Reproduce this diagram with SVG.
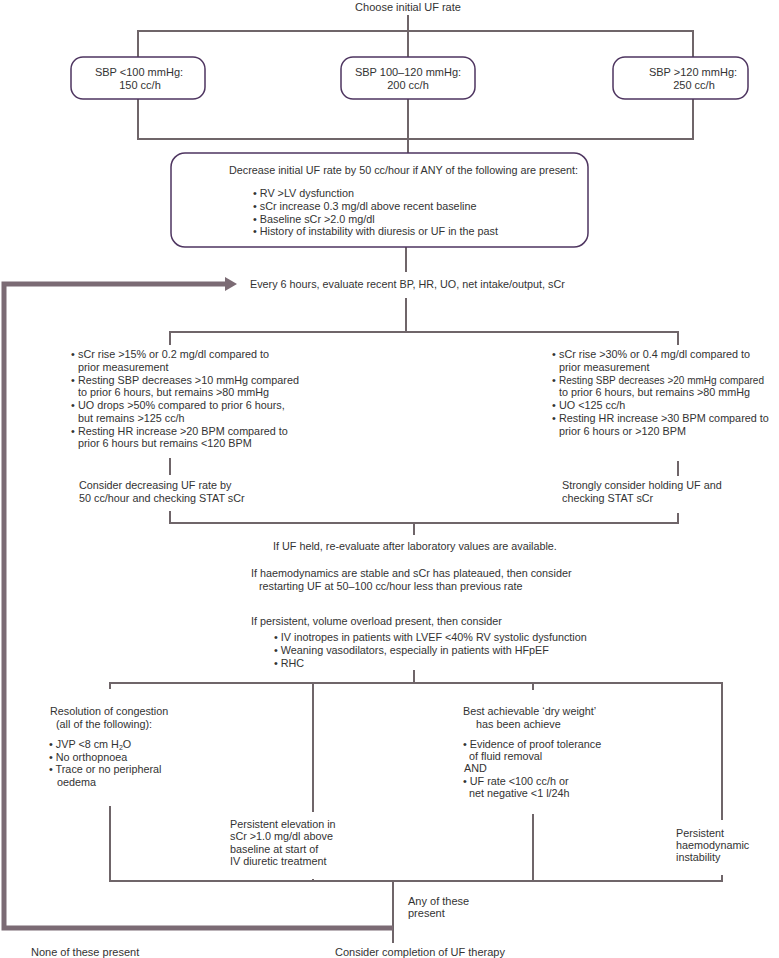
<svg xmlns="http://www.w3.org/2000/svg" width="779" height="958" viewBox="0 0 779 958">
<style>
.t{font-family:"Liberation Sans","DejaVu Sans",sans-serif;font-size:10.8px;fill:#333}
.n{font-family:"Liberation Sans","DejaVu Sans",sans-serif;font-size:11px;fill:#333}
.c{text-anchor:middle}
.ln{stroke:#6f6569;stroke-width:2;fill:none}
.bx{stroke:#4e3560;stroke-width:1.5;fill:#fff}
.thick{stroke:#7b6b74;stroke-width:5;fill:none}
</style>
<defs>
<marker id="ah" markerUnits="userSpaceOnUse" markerWidth="14" markerHeight="14" refX="1" refY="7" orient="auto">
<path d="M0,0 L12,7 L0,14 Z" fill="#7b6b74"/>
</marker>
</defs>
<rect width="779" height="958" fill="#fff"/>
<g id="connectors">
<path class="ln" d="M408,15 V57 M138,57 V31 H693 V57 M138,99 V139 H693 V99 M408,99 V153"/>
<path class="ln" d="M406,247 V272 M406,298 V332 M170,345 V332 H678 V345 M170,458 V475 M678,461 V476 M170,511 V523 H678 V513 M414,523 V535"/>
<path class="ln" d="M414,670 V683 M110,689 V683 H722 V820 M313,683 V812 M533,683 V690 M110,806 V881 H722 V875 M313,879 V881 M533,814 V881 M393,881 V943"/>
<path class="thick" d="M393,928 H4 V284 H226" marker-end="url(#ah)"/>
</g>
<g id="start"><text class="n c" x="408" y="11">Choose initial UF rate</text></g>
<g id="sbp-low">
<rect class="bx" x="71" y="57" width="134" height="42" rx="12"/>
<text class="n c" x="139" y="76">SBP &lt;100 mmHg:</text>
<text class="n c" x="140" y="89">150 cc/h</text>
</g>
<g id="sbp-mid">
<rect class="bx" x="341" y="57" width="134" height="42" rx="12"/>
<text class="n c" x="408" y="76">SBP 100–120 mmHg:</text>
<text class="n c" x="408" y="89">200 cc/h</text>
</g>
<g id="sbp-high">
<rect class="bx" x="613" y="57" width="135" height="42" rx="12"/>
<text class="n c" x="693" y="76">SBP &gt;120 mmHg:</text>
<text class="n c" x="694" y="89">250 cc/h</text>
</g>
<g id="decrease">
<rect class="bx" x="171" y="153" width="417" height="94" rx="14"/>
<text class="t" x="229" y="174">Decrease initial UF rate by 50 cc/hour if ANY of the following are present:</text>
<text class="t" x="253" y="197">• RV &gt;LV dysfunction</text>
<text class="t" x="253" y="210">• sCr increase 0.3 mg/dl above recent baseline</text>
<text class="t" x="253" y="223">• Baseline sCr &gt;2.0 mg/dl</text>
<text class="t" x="253" y="235">• History of instability with diuresis or UF in the past</text>
</g>
<g id="evaluate"><text class="t" x="250" y="288">Every 6 hours, evaluate recent BP, HR, UO, net intake/output, sCr</text></g>
<g id="mild-criteria">
<text class="t" x="71" y="358">•</text><text class="t" x="78" y="358">sCr rise &gt;15% or 0.2 mg/dl compared to</text>
<text class="t" x="78" y="371">prior measurement</text>
<text class="t" x="71" y="384">•</text><text class="t" x="78" y="384">Resting SBP decreases &gt;10 mmHg compared</text>
<text class="t" x="78" y="396">to prior 6 hours, but remains &gt;80 mmHg</text>
<text class="t" x="71" y="409">•</text><text class="t" x="78" y="409">UO drops &gt;50% compared to prior 6 hours,</text>
<text class="t" x="78" y="422">but remains &gt;125 cc/h</text>
<text class="t" x="71" y="435">•</text><text class="t" x="78" y="435">Resting HR increase &gt;20 BPM compared to</text>
<text class="t" x="78" y="447">prior 6 hours but remains &lt;120 BPM</text>
</g>
<g id="mild-action">
<text class="t" x="79" y="489">Consider decreasing UF rate by</text>
<text class="t" x="79" y="502">50 cc/hour and checking STAT sCr</text>
</g>
<g id="severe-criteria">
<text class="t" x="552" y="358">•</text><text class="t" x="559" y="358">sCr rise &gt;30% or 0.4 mg/dl compared to</text>
<text class="t" x="559" y="371">prior measurement</text>
<text class="t" x="552" y="384">•</text><text class="t" x="559" y="384" textLength="205" lengthAdjust="spacingAndGlyphs">Resting SBP decreases &gt;20 mmHg compared</text>
<text class="t" x="559" y="396">to prior 6 hours, but remains &gt;80 mmHg</text>
<text class="t" x="552" y="409">•</text><text class="t" x="559" y="409">UO &lt;125 cc/h</text>
<text class="t" x="552" y="422">•</text><text class="t" x="559" y="422">Resting HR increase &gt;30 BPM compared to</text>
<text class="t" x="559" y="435">prior 6 hours or &gt;120 BPM</text>
</g>
<g id="severe-action">
<text class="t" x="562" y="489">Strongly consider holding UF and</text>
<text class="t" x="562" y="502">checking STAT sCr</text>
</g>
<g id="reevaluate">
<text class="t" x="273" y="550">If UF held, re-evaluate after laboratory values are available.</text>
<text class="t" x="251" y="577">If haemodynamics are stable and sCr has plateaued, then consider</text>
<text class="t" x="259" y="590">restarting UF at 50–100 cc/hour less than previous rate</text>
<text class="t" x="251" y="625">If persistent, volume overload present, then consider</text>
<text class="t" x="274" y="641">• IV inotropes in patients with LVEF &lt;40% RV systolic dysfunction</text>
<text class="t" x="274" y="654">• Weaning vasodilators, especially in patients with HFpEF</text>
<text class="t" x="274" y="667">• RHC</text>
</g>
<g id="resolution">
<text class="t" x="50" y="715">Resolution of congestion</text>
<text class="t" x="56" y="728">(all of the following):</text>
<text class="t" x="49" y="748">• JVP &lt;8 cm H<tspan font-size="7" dy="2">2</tspan><tspan dy="-2">O</tspan></text>
<text class="t" x="49" y="761">• No orthopnoea</text>
<text class="t" x="49" y="773">• Trace or no peripheral</text>
<text class="t" x="57" y="786">oedema</text>
</g>
<g id="scr-elevation">
<text class="t" x="230" y="828">Persistent elevation in</text>
<text class="t" x="230" y="840">sCr &gt;1.0 mg/dl above</text>
<text class="t" x="230" y="853">baseline at start of</text>
<text class="t" x="230" y="865">IV diuretic treatment</text>
</g>
<g id="dry-weight">
<text class="t" x="463" y="715">Best achievable ‘dry weight’</text>
<text class="t" x="476" y="728">has been achieve</text>
<text class="t" x="463" y="748">• Evidence of proof tolerance</text>
<text class="t" x="469" y="760">of fluid removal</text>
<text class="t" x="464" y="772">AND</text>
<text class="t" x="463" y="785">• UF rate &lt;100 cc/h or</text>
<text class="t" x="469" y="797">net negative &lt;1 l/24h</text>
</g>
<g id="instability">
<text class="t" x="676" y="837">Persistent</text>
<text class="t" x="676" y="849">haemodynamic</text>
<text class="t" x="676" y="861">instability</text>
</g>
<g id="any-present"><text class="n" x="408" y="905">Any of these</text><text class="n" x="408" y="917">present</text></g>
<g id="none-present"><text class="n" x="31" y="956">None of these present</text></g>
<g id="completion"><text class="n" x="335" y="956">Consider completion of UF therapy</text></g>
</svg>
